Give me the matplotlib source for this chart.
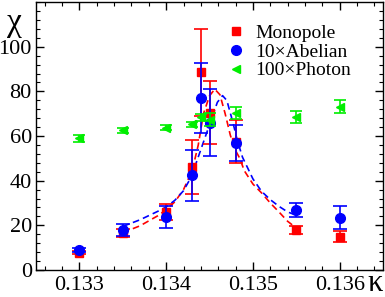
import numpy as np
import matplotlib
matplotlib.use('Agg')
import matplotlib.pyplot as plt
from matplotlib.ticker import MultipleLocator
from matplotlib.lines import Line2D

# kappa values
kappa = [0.1330, 0.1335, 0.1340, 0.1343, 0.1344, 0.1345, 0.1348, 0.1355, 0.1360]

# susceptibilities
mono = [7.8, 16.5, 26.0, 46.0, 88.5, 70.5, 57.5, 17.9, 14.9]
mono_err = [0.8, 1.8, 3.5, 12.0, 19.5, 14.0, 9.5, 1.8, 2.5]

abel = [8.9, 17.9, 23.8, 42.4, 77.0, 66.0, 57.0, 26.8, 23.5]
abel_err = [0.8, 2.5, 5.0, 11.5, 15.5, 15.0, 8.0, 3.0, 5.0]

phot = [59.0, 62.5, 63.7, 65.3, 68.3, 67.3, 70.4, 68.5, 73.2]
phot_err = [1.5, 1.0, 1.2, 1.2, 1.5, 3.0, 2.6, 2.8, 2.8]

# dashed fit curves
fit_mono_x = [0.1335, 0.1337, 0.1339, 0.1340, 0.1341, 0.1342, 0.1343, 0.13437, 0.13443,
              0.13450, 0.13456, 0.13462, 0.13468, 0.13474, 0.1348, 0.13485, 0.1349,
              0.1350, 0.1351, 0.1352, 0.1353, 0.1354, 0.1355]
fit_mono_y = [16.7, 19.8, 24.2, 27.0, 30.5, 36.0, 44.5, 56.0, 70.0,
              78.0, 81.0, 78.5, 70.0, 60.3, 53.5, 49.9, 44.5,
              38.5, 34.5, 30.0, 26.0, 21.8, 18.8]

fit_abel_x = [0.1335, 0.1337, 0.1339, 0.1340, 0.1341, 0.1342, 0.1343, 0.13435, 0.13443,
              0.13451, 0.13459, 0.13465, 0.1347, 0.13477, 0.13482, 0.13488, 0.1350,
              0.1351, 0.1352, 0.1353, 0.1354, 0.1355]
fit_abel_y = [19.5, 22.5, 26.2, 28.2, 31.2, 35.5, 42.4, 48.4, 57.3,
              66.2, 75.1, 78.1, 75.9, 66.0, 58.0, 50.5, 40.8,
              35.2, 31.5, 28.5, 26.0, 24.5]

labels = ['Monopole', '10×Abelian', '100×Photon']

plt.rcParams['font.family'] = 'Liberation Serif'
plt.rcParams['mathtext.default'] = 'regular'

fig = plt.figure(figsize=(3.85, 2.97), dpi=100)
ax = fig.add_axes([0.0935, 0.091, 0.9015, 0.902])

red = '#ff0000'
blue = '#0000ff'
green = '#00ee00'

ax.plot(fit_mono_x, fit_mono_y, color=red, ls=(0, (4, 2.5)), lw=1.2, zorder=2)
ax.plot(fit_abel_x, fit_abel_y, color=blue, ls=(0, (4, 2.5)), lw=1.2, zorder=2)

ax.errorbar(kappa, mono, yerr=mono_err, fmt='s', color=red, ms=5.5, capsize=5,
            elinewidth=1.2, capthick=1.2, zorder=3)
ax.errorbar(kappa, abel, yerr=abel_err, fmt='o', color=blue, ms=7, capsize=5,
            elinewidth=1.2, capthick=1.2, zorder=4)
ax.errorbar(kappa, phot, yerr=phot_err, fmt='<', color=green, ms=5.5, capsize=4.5,
            elinewidth=1.2, capthick=1.2, zorder=5)

ax.set_xlim(0.1325, 0.1365)
ax.set_ylim(0, 120)
ax.set_xticks([0.133, 0.134, 0.135, 0.136])
ax.set_xticklabels(['0.133', '0.134', '0.135', '0.136'])
ax.set_yticks([0, 20, 40, 60, 80, 100])
ax.xaxis.set_minor_locator(MultipleLocator(0.0002))
ax.yaxis.set_minor_locator(MultipleLocator(4))
ax.tick_params(which='both', direction='in', top=True, right=True, labelsize=16)
ax.tick_params(which='major', length=6, width=1)
ax.tick_params(which='minor', length=3, width=0.8)
ax.tick_params(axis='x', pad=4)
ax.tick_params(axis='y', pad=3)
for s in ax.spines.values():
    s.set_linewidth(1)

fig.text(0.038, 0.925, 'χ', fontsize=24, ha='center', va='center')
fig.text(0.975, 0.045, 'κ', fontsize=22, ha='center', va='center')

handles = [Line2D([], [], ls='none', marker='s', color=red, ms=5.5),
           Line2D([], [], ls='none', marker='o', color=blue, ms=7),
           Line2D([], [], ls='none', marker='<', color=green, ms=6)]
ax.legend(handles, labels, loc='upper left', bbox_to_anchor=(0.525, 0.945),
          frameon=False, fontsize=14, handlelength=1.0, handletextpad=0.5,
          labelspacing=0.05, borderaxespad=0)

fig.savefig('out.png', dpi=100)
